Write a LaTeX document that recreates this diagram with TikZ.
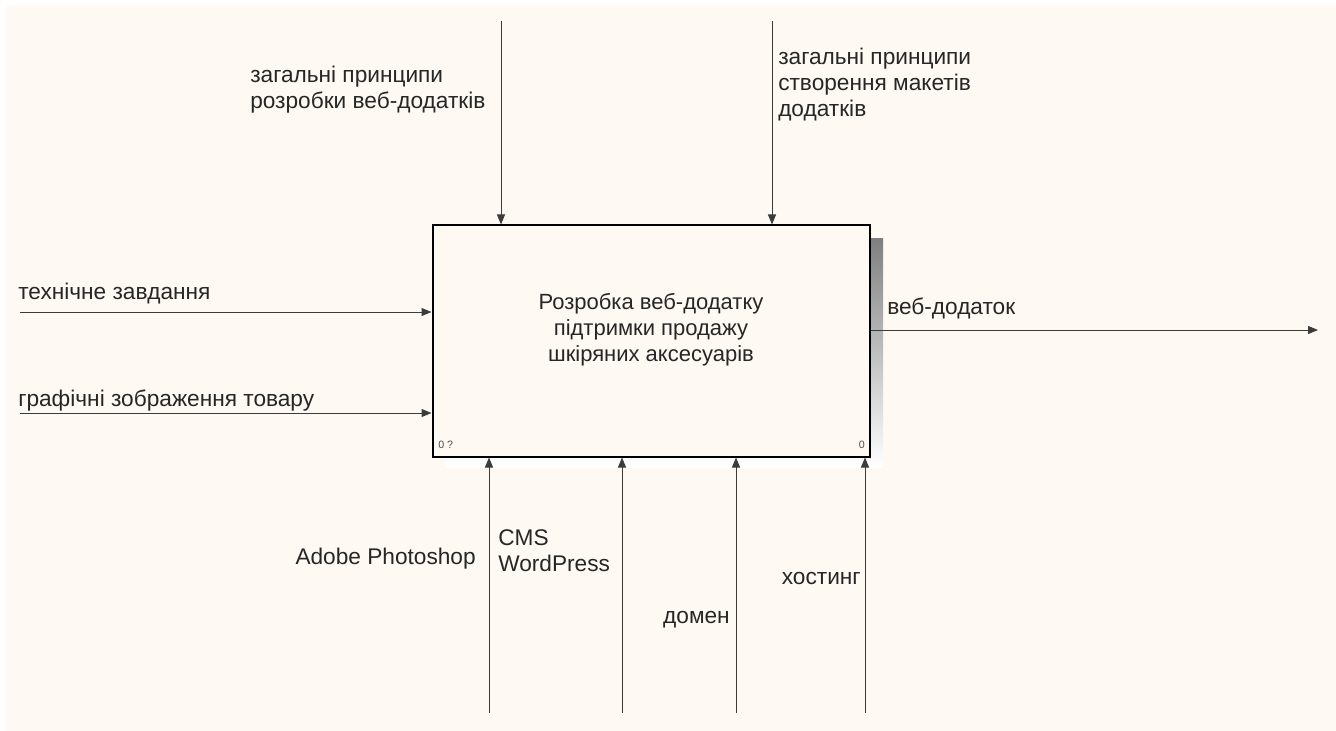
\documentclass[tikz,border=0pt]{standalone}
\usepackage{fontspec}
\setmainfont{Liberation Sans}
\usetikzlibrary{arrows.meta,calc}

\definecolor{paper}{RGB}{254,250,243}
\definecolor{shade}{RGB}{165,162,158}
\definecolor{linegray}{RGB}{60,60,60}

\tikzset{
  arr/.style={draw=linegray, line width=0.75pt, -{Triangle[length=7.5pt,width=6pt]}},
  lbl/.style={inner sep=0pt, font=\fontsize{17}{19.5}\selectfont, text=black!85},
  corner/.style={inner sep=0pt, font=\fontsize{8}{9}\selectfont, text=black!70}
}

\begin{document}
\begin{tikzpicture}[x=0.75pt,y=-0.75pt]
\useasboundingbox (0,0) rectangle (1336,731);
\fill[white] (0,0) rectangle (1336,731);
\fill[paper] (6,5) rectangle (1336,731);

% activity box and its shadow
\fill[shade] (445,239) rectangle (883,467);
\node[draw, line width=1.5pt, fill=paper, minimum width=327.75pt, minimum height=173.25pt,
      inner sep=0pt] (main) at (651,341) {};
\node[lbl, align=center, anchor=base, font=\fontsize{16.5}{19.5}\selectfont] (title) at (651,361)
  {Розробка веб-додатку\\підтримки продажу\\шкіряних аксесуарів};
\node[corner, anchor=south west] (num) at (438,449) {0 ?};
\node[corner, anchor=south east] (cost) at (865,449) {0};

% controls
\coordinate (ctl1) at (501,21);
\coordinate (ctl2) at (772,21);
\draw[arr] (ctl1) -- (ctl1 |- main.north);
\draw[arr] (ctl2) -- (ctl2 |- main.north);
\node[lbl, align=left, anchor=base west] (ctl1txt) at (250,109)
  {загальні принципи\\розробки веб-додатків};
\node[lbl, align=left, anchor=base west] (ctl2txt) at (778,117)
  {загальні принципи\\створення макетів\\додатків};

% inputs
\coordinate (in1) at (20,312);
\coordinate (in2) at (20,413);
\draw[arr] (in1) -- (in1 -| main.west);
\draw[arr] (in2) -- (in2 -| main.west);
\node[lbl, anchor=base west] (in1txt) at (18,299) {технічне завдання};
\node[lbl, anchor=base west] (in2txt) at (18,406) {графічні зображення товару};

% output
\coordinate (out) at (1318,330);
\draw[arr] (out -| main.east) -- (out);
\node[lbl, anchor=base west] (outtxt) at (887,315) {веб-додаток};

% mechanisms
\coordinate (mec1) at (489,713);
\coordinate (mec2) at (622,713);
\coordinate (mec3) at (736,713);
\coordinate (mec4) at (865,713);
\draw[arr] (mec1) -- (mec1 |- main.south);
\draw[arr] (mec2) -- (mec2 |- main.south);
\draw[arr] (mec3) -- (mec3 |- main.south);
\draw[arr] (mec4) -- (mec4 |- main.south);
\node[lbl, anchor=base east] (mec1txt) at (476,564) {Adobe Photoshop};
\node[lbl, align=left, anchor=base west] (mec2txt) at (498,571) {CMS\\WordPress};
\node[lbl, anchor=base east] (mec3txt) at (730,623) {домен};
\node[lbl, anchor=base east] (mec4txt) at (861,584) {хостинг};
\end{tikzpicture}
\end{document}
